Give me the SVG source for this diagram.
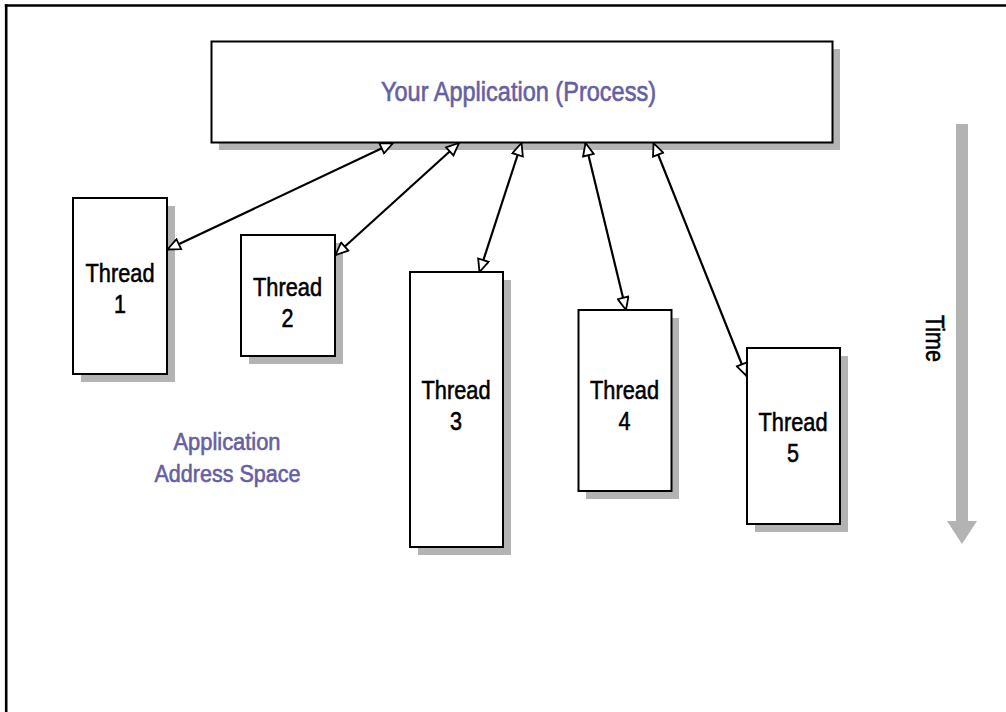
<svg xmlns="http://www.w3.org/2000/svg" width="1006" height="712" viewBox="0 0 1006 712">
<style>
.box{fill:#fff;stroke:#000;stroke-width:2}
.shadow{fill:#b3b3b3}
.lbl{font-family:"Liberation Sans",Arial,sans-serif;font-size:26.5px;fill:#000;stroke:#000;stroke-width:0.6;text-anchor:middle}
.plbl{font-family:"Liberation Sans",Arial,sans-serif;fill:#6560a3;stroke:#6560a3;stroke-width:0.6;text-anchor:middle}
.conn{stroke:#000;stroke-width:2.2;fill:none;marker-start:url(#tri);marker-end:url(#tri)}
</style>
<defs>
<marker id="tri" viewBox="0 0 15 13" refX="14" refY="6.5" markerWidth="15" markerHeight="13" markerUnits="userSpaceOnUse" orient="auto-start-reverse">
<path d="M1.5,1 L14,6.5 L1.5,12 Z" fill="#fff" stroke="#000" stroke-width="1.8" stroke-linejoin="miter"/>
</marker>
</defs>
<rect width="1006" height="712" fill="#fff"/>
<g id="frame">
<line x1="4.8" y1="5.5" x2="1006" y2="5.5" stroke="#000" stroke-width="2.6"/>
<line x1="6.2" y1="4.2" x2="6.2" y2="712" stroke="#000" stroke-width="2.6"/>
</g>
<g id="time-axis">
<rect x="956" y="124" width="12" height="398" class="shadow"/>
<polygon points="947,521 977,521 962,544" class="shadow"/>
<text class="lbl" transform="translate(925.5,338.5) rotate(90)" textLength="47" lengthAdjust="spacingAndGlyphs">Time</text>
</g>
<g id="process">
<rect x="219" y="49" width="621" height="101" class="shadow"/>
<rect x="211.5" y="41.5" width="621" height="101" class="box"/>
<text class="plbl" x="518.5" y="101" font-size="27" textLength="275" lengthAdjust="spacingAndGlyphs">Your Application (Process)</text>
</g>
<g id="thread1">
<rect x="81" y="206" width="94" height="176" class="shadow"/>
<rect x="73" y="198" width="94" height="176" class="box"/>
<text class="lbl" x="120" y="281.5" textLength="69" lengthAdjust="spacingAndGlyphs">Thread</text>
<text class="lbl" x="120" y="312.5" textLength="12" lengthAdjust="spacingAndGlyphs">1</text>
</g>
<g id="thread2">
<rect x="249" y="243" width="94" height="121" class="shadow"/>
<rect x="241" y="235" width="94" height="121" class="box"/>
<text class="lbl" x="287.5" y="296" textLength="69" lengthAdjust="spacingAndGlyphs">Thread</text>
<text class="lbl" x="287.5" y="327" textLength="12" lengthAdjust="spacingAndGlyphs">2</text>
</g>
<g id="thread3">
<rect x="418" y="280" width="93" height="275" class="shadow"/>
<rect x="410" y="272" width="93" height="275" class="box"/>
<text class="lbl" x="456" y="398.5" textLength="69" lengthAdjust="spacingAndGlyphs">Thread</text>
<text class="lbl" x="456" y="429.5" textLength="12" lengthAdjust="spacingAndGlyphs">3</text>
</g>
<g id="thread4">
<rect x="586" y="318" width="93" height="181" class="shadow"/>
<rect x="578.5" y="310" width="93" height="181" class="box"/>
<text class="lbl" x="624.5" y="398.5" textLength="69" lengthAdjust="spacingAndGlyphs">Thread</text>
<text class="lbl" x="624.5" y="429.5" textLength="12" lengthAdjust="spacingAndGlyphs">4</text>
</g>
<g id="thread5">
<rect x="755" y="356" width="93" height="176" class="shadow"/>
<rect x="747" y="348" width="93" height="176" class="box"/>
<text class="lbl" x="793" y="430.5" textLength="69" lengthAdjust="spacingAndGlyphs">Thread</text>
<text class="lbl" x="793" y="461.5" textLength="12" lengthAdjust="spacingAndGlyphs">5</text>
</g>
<g id="address-space">
<text class="plbl" x="227" y="449.5" font-size="23.5" textLength="107" lengthAdjust="spacingAndGlyphs">Application</text>
<text class="plbl" x="227.5" y="482" font-size="23.5" textLength="146" lengthAdjust="spacingAndGlyphs">Address Space</text>
</g>
<g id="connectors">
<line class="conn" x1="167.5" y1="249.5" x2="393" y2="143"/>
<line class="conn" x1="335.5" y1="255" x2="459" y2="143"/>
<line class="conn" x1="479.5" y1="272" x2="521.5" y2="143"/>
<line class="conn" x1="626" y1="310" x2="585.5" y2="143"/>
<line class="conn" x1="746.5" y1="376" x2="653.5" y2="143"/>
</g>
</svg>
